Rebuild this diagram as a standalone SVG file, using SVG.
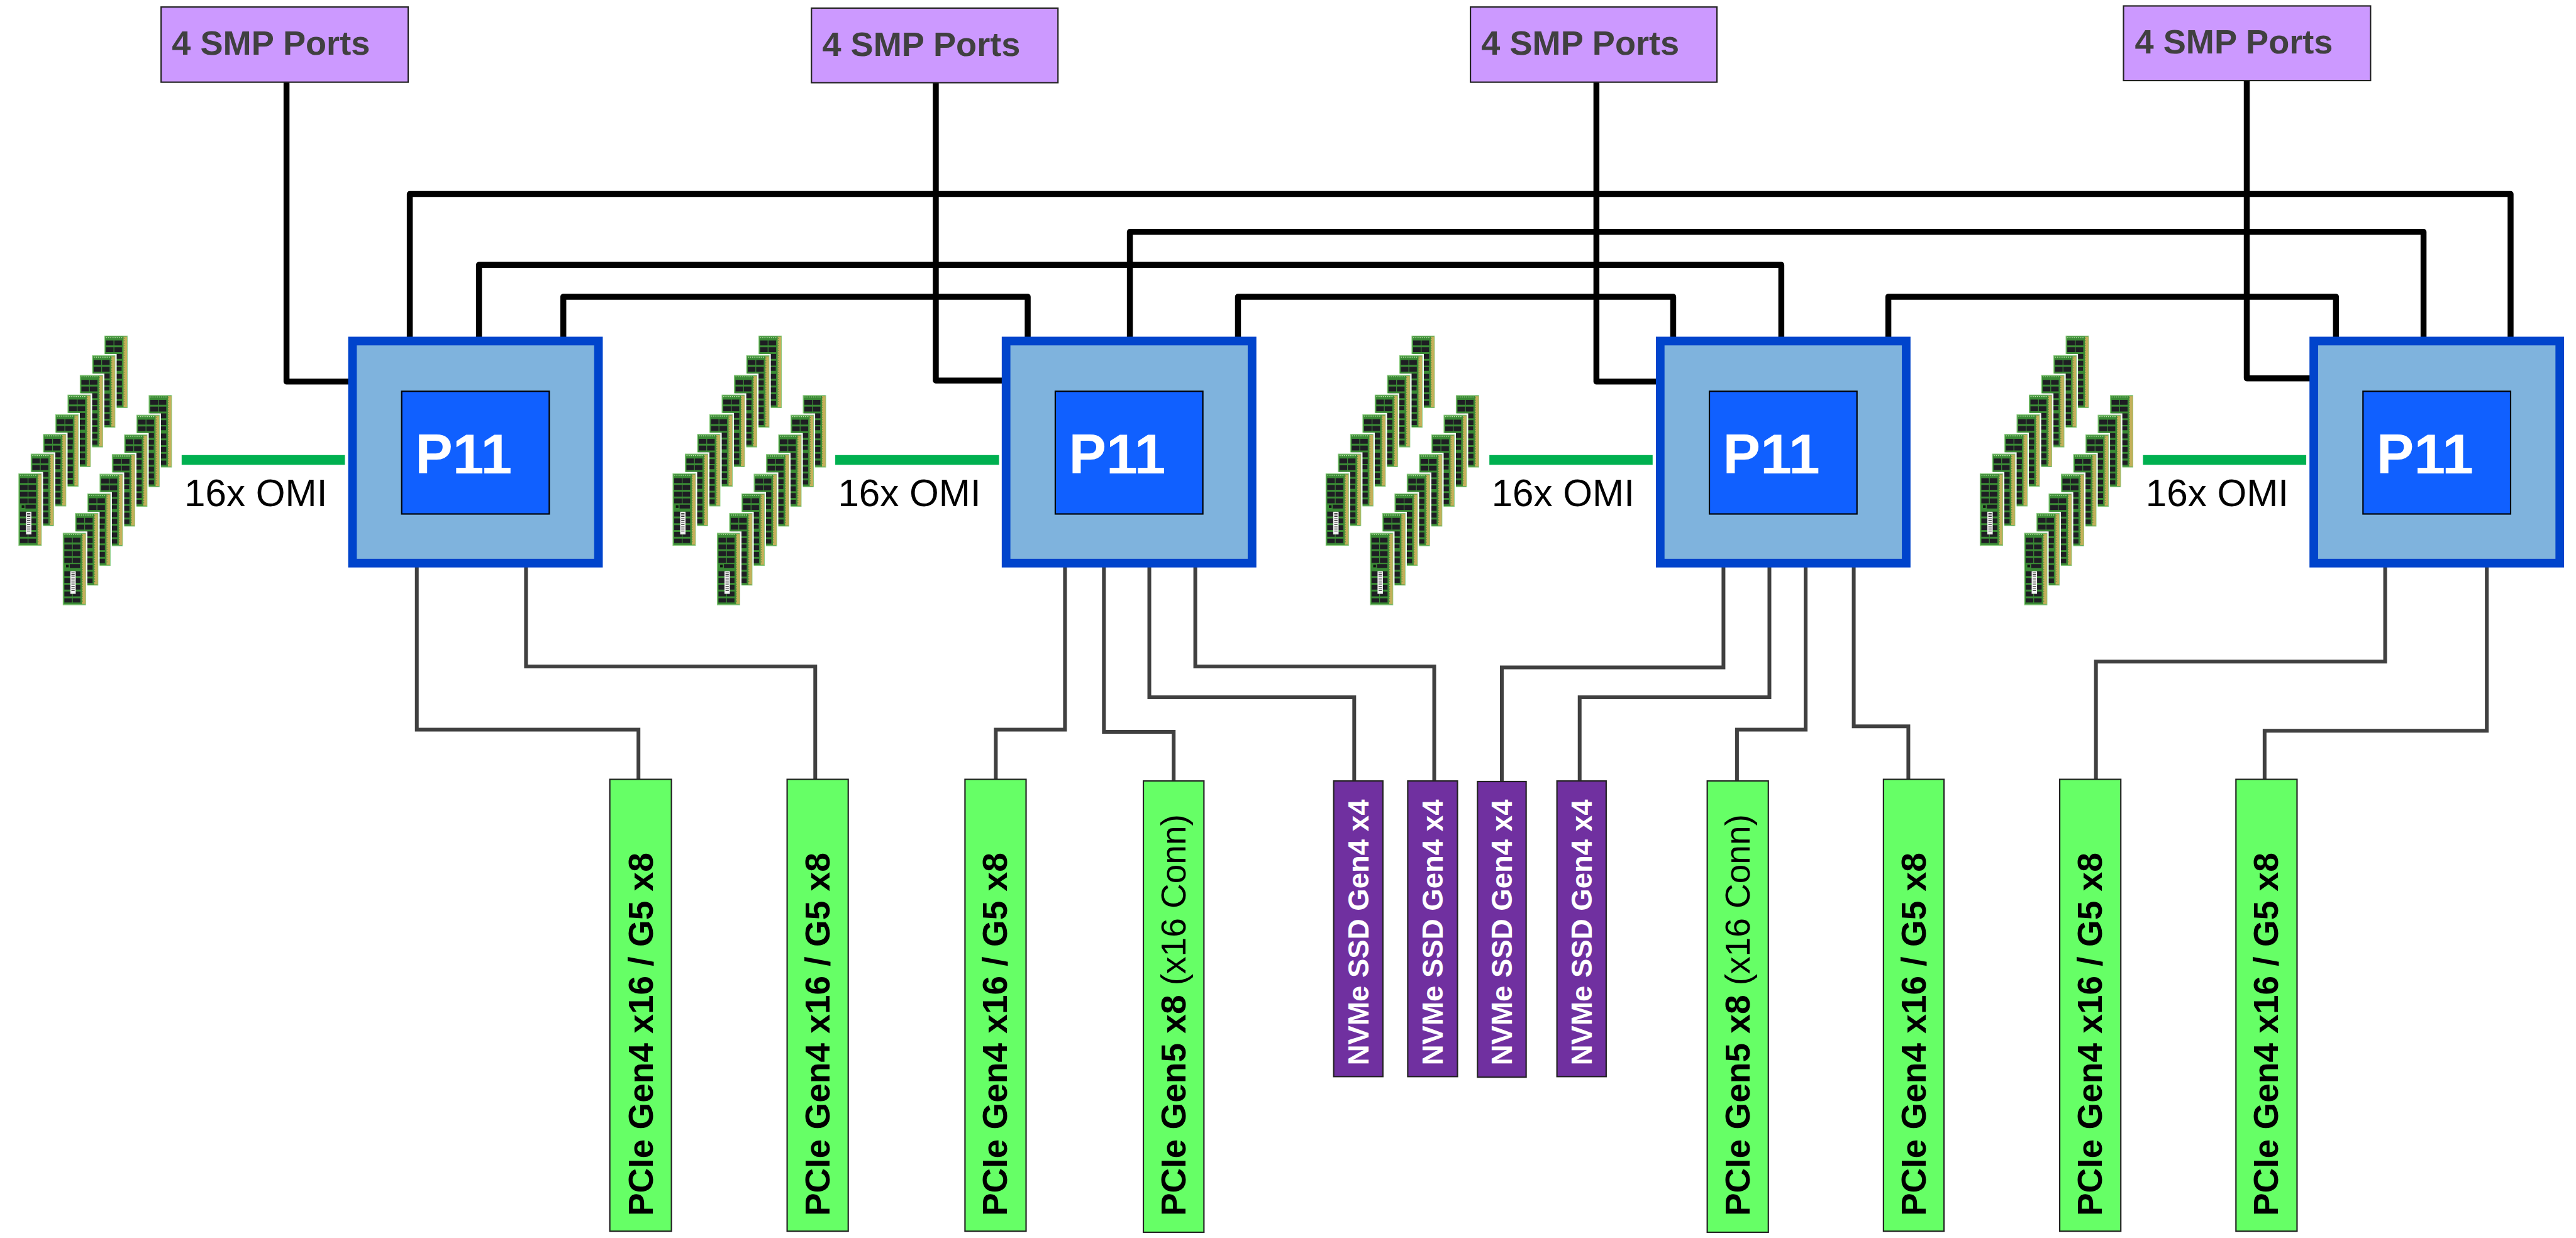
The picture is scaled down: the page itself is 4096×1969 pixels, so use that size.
<svg xmlns="http://www.w3.org/2000/svg" width="4096" height="1969" viewBox="0 0 4096 1969">
<style>
  .sans { font-family: "Liberation Sans", Arial, sans-serif; }
  .smp rect { fill: #CC99FF; stroke: #222; stroke-width: 2.5; }
  .smp text { font-weight: bold; font-size: 63px; fill: #404040; }
  .pkg { fill: #7FB3DD; stroke: #0044CC; stroke-width: 16; }
  .die { fill: #1060FF; stroke: #000; stroke-width: 2.5; }
  .die-label { font-weight: bold; font-size: 104px; fill: #fff; }
  .omi { stroke: #00B050; stroke-width: 18; }
  .omi-label { font-size: 70px; fill: #000; }
  .smp-link, .bus { fill: none; stroke: #000; stroke-width: 11; stroke-linejoin: round; }
  .io-link { fill: none; stroke: #404040; stroke-width: 7; }
  .pcie rect { fill: #66FF66; stroke: #222; stroke-width: 2.5; }
  .pcie text { font-weight: bold; font-size: 64px; fill: #000; }
  .pcie text .thin { font-weight: normal; }
  .nvme rect { fill: #7030A0; stroke: #222; stroke-width: 2.5; }
  .nvme text { font-weight: bold; font-size: 53px; fill: #fff; }
</style>
<defs>
  <!-- one memory module, seen face on, contacts on the right edge -->
  <g id="dimm">
    <rect x="-2.5" y="-2.5" width="48" height="139" fill="#fff"/>
    <rect x="0.75" y="0.75" width="41.5" height="132.5" fill="#3a8a35" stroke="#86c97a" stroke-width="1.5"/>
    <rect x="35.5" y="2" width="6.5" height="130" fill="#c4b05a"/>
    <line x1="36.5" y1="4" x2="36.5" y2="130" stroke="#4c8f3c" stroke-width="1.2" stroke-dasharray="2 2.5"/>
    <line x1="3" y1="3.5" x2="34" y2="3.5" stroke="#c2e6ad" stroke-width="1.5" stroke-dasharray="2 2"/>
    <path fill="#1e1e23" d="M3,9h14v9h-14z M18.5,9h14v9h-14z M3,21.5h14v9h-14z M18.5,21.5h14v9h-14z M3,34h14v9h-14z M18.5,34h14v9h-14z M3,46.5h14v9h-14z M18.5,46.5h14v9h-14z M13,58h19v7h-19z M3,71h14v9h-14z M18.5,71h14v9h-14z M3,83.5h14v9h-14z M18.5,83.5h14v9h-14z M3,96h14v9h-14z M18.5,96h14v9h-14z M3,108.5h14v9h-14z M18.5,108.5h14v9h-14z M3,121h14v8h-14z M18.5,121h14v8h-14z"/>
  </g>
  <!-- front module: same board with its label sticker visible -->
  <g id="dimm-front">
    <use href="#dimm"/>
    <rect x="6" y="59" width="5" height="5" fill="#111"/>
    <rect x="14" y="71" width="10" height="42" fill="#f2f2f2"/>
    <path d="M16,74h6 M16,77h6 M16,80h6 M16,84h6 M16,87h6 M16,91h6 M16,95h6 M16,99h6 M16,103h6 M16,107h6" stroke="#333" stroke-width="1.2"/>
  </g>
  <!-- 16 modules in two staggered rows -->
  <g id="dimm-bank">
    <use href="#dimm" x="193" y="621"/>
    <use href="#dimm" x="170.3" y="657.4"/>
    <use href="#dimm" x="147.6" y="693.8"/>
    <use href="#dimm" x="124.9" y="730.2"/>
    <use href="#dimm" x="102.2" y="766.6"/>
    <use href="#dimm" x="79.5" y="803"/>
    <use href="#dimm" x="56.8" y="839.4"/>
    <use href="#dimm-front" x="34.1" y="875.8"/>
    <use href="#dimm" x="275" y="731"/>
    <use href="#dimm" x="252.3" y="767.4"/>
    <use href="#dimm" x="229.6" y="803.8"/>
    <use href="#dimm" x="206.9" y="840.2"/>
    <use href="#dimm" x="184.2" y="876.6"/>
    <use href="#dimm" x="161.5" y="913"/>
    <use href="#dimm" x="138.8" y="949.4"/>
    <use href="#dimm-front" x="116.1" y="985.8"/>
  </g>
</defs>

<rect width="4096" height="1969" fill="#fff"/>

<g transform="scale(0.8596)" class="sans">

  <!-- connectors -->
  <g id="connectors">
    <!-- SMP port links -->
    <path class="smp-link" d="M530,152 V706 H652"/>
    <path class="smp-link" d="M1731,153 V704 H1861"/>
    <path class="smp-link" d="M2953,152 V706 H3071"/>
    <path class="smp-link" d="M4156,149 V700 H4280"/>
    <!-- processor-to-processor buses -->
    <path class="bus" d="M758,631 V359 H4644 V631"/>
    <path class="bus" d="M2090,631 V429 H4483 V631"/>
    <path class="bus" d="M886,631 V490 H3295 V631"/>
    <path class="bus" d="M1042,631 V549 H1901 V631"/>
    <path class="bus" d="M2290,631 V549 H3095 V631"/>
    <path class="bus" d="M3493,631 V549 H4321 V631"/>
    <!-- OMI memory links -->
    <line class="omi" x1="336" y1="851" x2="638" y2="851"/>
    <line class="omi" x1="1545" y1="851" x2="1848" y2="851"/>
    <line class="omi" x1="2755" y1="851" x2="3057" y2="851"/>
    <line class="omi" x1="3964" y1="851" x2="4266" y2="851"/>
    <text class="omi-label" x="341" y="937">16x OMI</text>
    <text class="omi-label" x="1550" y="937">16x OMI</text>
    <text class="omi-label" x="2759" y="937">16x OMI</text>
    <text class="omi-label" x="3969" y="937">16x OMI</text>
    <!-- I/O links -->
    <path class="io-link" d="M771,1042 V1350 H1181 V1442"/>
    <path class="io-link" d="M973,1042 V1233 H1508 V1442"/>
    <path class="io-link" d="M1970,1042 V1350 H1842 V1442"/>
    <path class="io-link" d="M2042,1042 V1354 H2171 V1445"/>
    <path class="io-link" d="M2126,1042 V1290 H2505 V1445"/>
    <path class="io-link" d="M2211,1042 V1233 H2653 V1445"/>
    <path class="io-link" d="M3188,1042 V1235 H2778 V1446"/>
    <path class="io-link" d="M3273,1042 V1290 H2922 V1445"/>
    <path class="io-link" d="M3340,1042 V1350 H3213 V1445"/>
    <path class="io-link" d="M3429,1042 V1344 H3530 V1442"/>
    <path class="io-link" d="M4412,1042 V1224 H3877 V1442"/>
    <path class="io-link" d="M4600,1042 V1352 H4189 V1442"/>
  </g>

  <!-- SMP port blocks -->
  <g id="smp0" class="smp"><rect x="298" y="13" width="457" height="139"/><text x="318" y="101">4 SMP Ports</text></g>
  <g id="smp1" class="smp"><rect x="1501" y="15" width="456" height="138"/><text x="1521" y="103">4 SMP Ports</text></g>
  <g id="smp2" class="smp"><rect x="2720" y="13" width="456" height="139"/><text x="2740" y="101">4 SMP Ports</text></g>
  <g id="smp3" class="smp"><rect x="3928" y="11" width="457" height="138"/><text x="3949" y="99">4 SMP Ports</text></g>

  <!-- memory banks -->
  <g id="mem0"><use href="#dimm-bank"/></g>
  <g id="mem1"><use href="#dimm-bank" x="1210"/></g>
  <g id="mem2"><use href="#dimm-bank" x="2418"/></g>
  <g id="mem3"><use href="#dimm-bank" x="3628"/></g>

  <!-- processors -->
  <g id="cpu0"><rect class="pkg" x="652" y="631" width="455" height="411"/><rect class="die" x="743" y="724" width="273" height="227"/><text class="die-label" x="768" y="876">P11</text></g>
  <g id="cpu1"><rect class="pkg" x="1861" y="631" width="455" height="411"/><rect class="die" x="1952" y="724" width="273" height="227"/><text class="die-label" x="1977" y="876">P11</text></g>
  <g id="cpu2"><rect class="pkg" x="3071" y="631" width="455" height="411"/><rect class="die" x="3162" y="724" width="273" height="227"/><text class="die-label" x="3187" y="876">P11</text></g>
  <g id="cpu3"><rect class="pkg" x="4280" y="631" width="455" height="411"/><rect class="die" x="4371" y="724" width="273" height="227"/><text class="die-label" x="4396" y="876">P11</text></g>

  <!-- PCIe slots -->
  <g id="slot0" class="pcie"><rect x="1128" y="1442" width="114" height="836"/><text transform="translate(1207,2250) rotate(-90)">PCIe Gen4 x16 / G5 x8</text></g>
  <g id="slot1" class="pcie"><rect x="1456" y="1442" width="113" height="836"/><text transform="translate(1534,2250) rotate(-90)">PCIe Gen4 x16 / G5 x8</text></g>
  <g id="slot2" class="pcie"><rect x="1785" y="1442" width="113" height="836"/><text transform="translate(1863,2250) rotate(-90)">PCIe Gen4 x16 / G5 x8</text></g>
  <g id="slot3" class="pcie"><rect x="2115" y="1445" width="112" height="835"/><text transform="translate(2193,2250) rotate(-90)">PCIe Gen5 x8<tspan class="thin"> (x16 Conn)</tspan></text></g>
  <g id="slot4" class="pcie"><rect x="3158" y="1445" width="113" height="835"/><text transform="translate(3236,2250) rotate(-90)">PCIe Gen5 x8<tspan class="thin"> (x16 Conn)</tspan></text></g>
  <g id="slot5" class="pcie"><rect x="3484" y="1442" width="112" height="836"/><text transform="translate(3562,2250) rotate(-90)">PCIe Gen4 x16 / G5 x8</text></g>
  <g id="slot6" class="pcie"><rect x="3810" y="1442" width="113" height="836"/><text transform="translate(3888,2250) rotate(-90)">PCIe Gen4 x16 / G5 x8</text></g>
  <g id="slot7" class="pcie"><rect x="4136" y="1442" width="113" height="836"/><text transform="translate(4214,2250) rotate(-90)">PCIe Gen4 x16 / G5 x8</text></g>

  <!-- NVMe drives -->
  <g id="nvme0" class="nvme"><rect x="2467" y="1445" width="91" height="547"/><text transform="translate(2531,1971) rotate(-90)">NVMe SSD Gen4 x4</text></g>
  <g id="nvme1" class="nvme"><rect x="2604" y="1445" width="92" height="547"/><text transform="translate(2669,1971) rotate(-90)">NVMe SSD Gen4 x4</text></g>
  <g id="nvme2" class="nvme"><rect x="2733" y="1446" width="90" height="547"/><text transform="translate(2797,1971) rotate(-90)">NVMe SSD Gen4 x4</text></g>
  <g id="nvme3" class="nvme"><rect x="2880" y="1445" width="91" height="547"/><text transform="translate(2944,1971) rotate(-90)">NVMe SSD Gen4 x4</text></g>
</g>
</svg>
